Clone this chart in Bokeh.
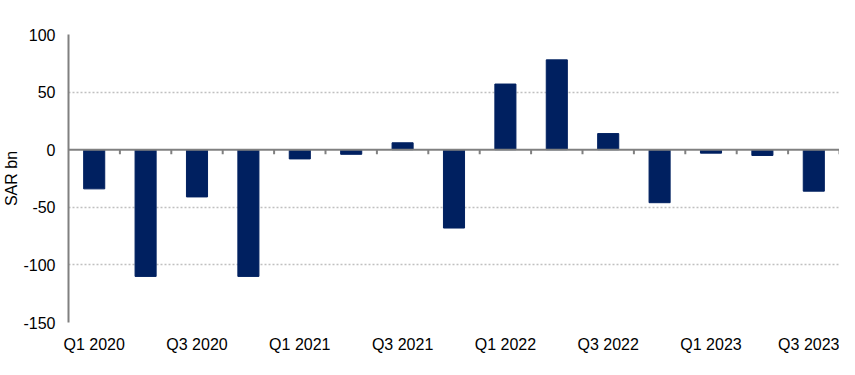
from bokeh.plotting import figure
from bokeh.models import Range1d, Span, FixedTicker
from bokeh.embed import file_html
from bokeh.resources import INLINE

quarters = ["Q1 2020", "Q2 2020", "Q3 2020", "Q4 2020",
            "Q1 2021", "Q2 2021", "Q3 2021", "Q4 2021",
            "Q1 2022", "Q2 2022", "Q3 2022", "Q4 2022",
            "Q1 2023", "Q2 2023", "Q3 2023"]
values = [-34, -110, -41, -110, -8, -4, 6, -68, 57, 78, 14, -46, -3, -5, -36]
y_ticks = [-150, -100, -50, 0, 50, 100]
y_label = "SAR bn"

FONT = "Liberation Sans"
GREY = "#808080"
n = len(quarters)
centers = [i + 0.5 for i in range(n)]

p = figure(width=839, height=359, output_backend="svg", toolbar_location=None,
           x_range=Range1d(0, n), y_range=Range1d(y_ticks[0], y_ticks[-1]),
           min_border_left=63, min_border_right=0, min_border_top=34, min_border_bottom=37)
p.outline_line_color = None
p.background_fill_color = "white"

p.vbar(x=centers, top=values, bottom=0, width=0.41, color="#002060")

# zero line and category-boundary ticks
p.add_layout(Span(location=0, dimension="width", line_color=GREY, line_width=2))
p.segment(x0=list(range(1, n + 1)), x1=list(range(1, n + 1)), y0=[0] * n, y1=[-4] * n,
          line_color=GREY, line_width=2)

# axes
p.xaxis.ticker = FixedTicker(ticks=centers[::2])
p.xaxis.major_label_overrides = {c: quarters[i] for i, c in enumerate(centers) if i % 2 == 0}
p.xaxis.axis_line_color = None
p.xaxis.major_tick_line_color = None
p.xaxis.minor_tick_line_color = None
p.xaxis.major_tick_out = 0
p.xaxis.major_tick_in = 0
p.xaxis.major_label_standoff = 13
p.xaxis.major_label_text_font = FONT
p.xaxis.major_label_text_font_size = "16px"
p.xaxis.major_label_text_color = "#000000"

p.yaxis.ticker = FixedTicker(ticks=y_ticks)
p.yaxis.major_label_overrides = {t: str(t) for t in y_ticks}
p.yaxis.axis_line_color = GREY
p.yaxis.axis_line_width = 2
p.yaxis.major_tick_line_color = None
p.yaxis.minor_tick_line_color = None
p.yaxis.major_tick_out = 0
p.yaxis.major_tick_in = 0
p.yaxis.major_label_standoff = 13
p.yaxis.major_label_text_font = FONT
p.yaxis.major_label_text_font_size = "16px"
p.yaxis.major_label_text_color = "#000000"
p.yaxis.axis_label = y_label
p.yaxis.axis_label_text_font = FONT
p.yaxis.axis_label_text_font_size = "16px"
p.yaxis.axis_label_text_font_style = "normal"
p.yaxis.axis_label_text_color = "#000000"
p.yaxis.axis_label_standoff = 0

# grids
p.xgrid.grid_line_color = None
p.ygrid.ticker = FixedTicker(ticks=[t for t in y_ticks if t != 0])
p.ygrid.grid_line_color = "#c0c0c0"
p.ygrid.grid_line_width = 1.5
p.ygrid.grid_line_dash = "2 2"

open("out.html", "w").write(file_html(p, INLINE))
